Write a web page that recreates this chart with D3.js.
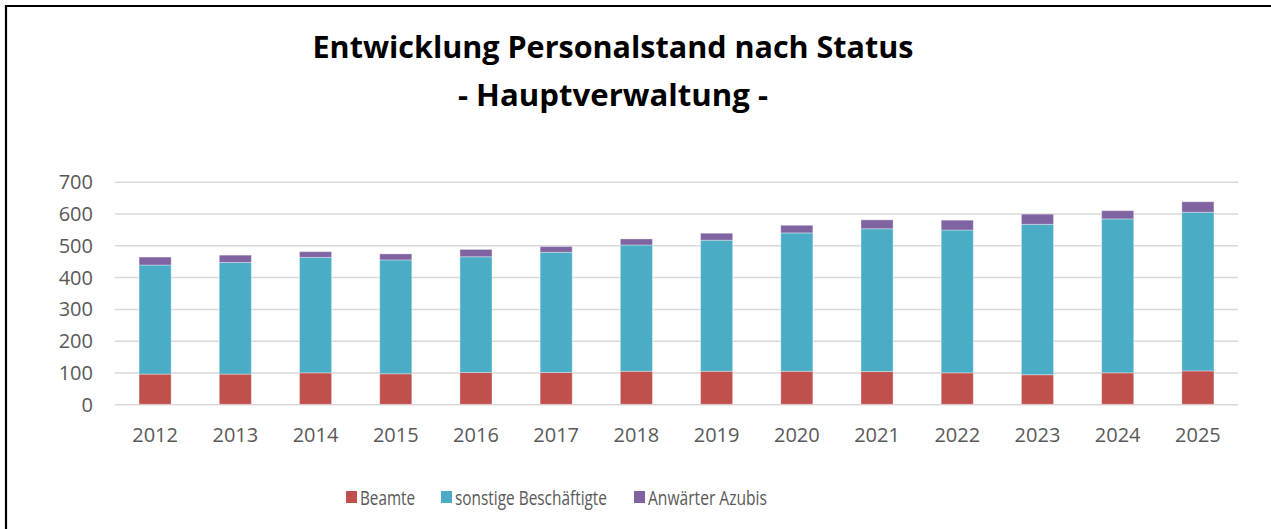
<!DOCTYPE html>
<html>
<head>
<meta charset="utf-8">
<script src="https://cdn.jsdelivr.net/npm/d3@7"></script>
<style>
  html, body { margin: 0; padding: 0; background: #fff; }
  svg { display: block; }
</style>
</head>
<body>
<svg id="chart" width="1271" height="529"></svg>
<script>
// ---- data ----
const years = ["2012","2013","2014","2015","2016","2017","2018","2019","2020","2021","2022","2023","2024","2025"];
const beamte = [95, 95, 99, 96, 100, 100, 104, 104, 104, 103, 99, 93, 99, 105];
const sonstige = [343, 351, 363, 358, 364, 378, 397, 412, 435, 449, 449, 473, 484, 499];
const azubis = [25, 23, 18, 19, 23, 18, 19, 22, 24, 28, 31, 32, 26, 33];
const seriesNames = ["Beamte", "sonstige Beschäftigte", "Anwärter Azubis"];
const yTicks = [0, 100, 200, 300, 400, 500, 600, 700];
const titleLines = ["Entwicklung Personalstand nach Status", "- Hauptverwaltung -"];

// ---- layout ----
const colors = ["#C0504D", "#4BACC6", "#8064A2"];
const svg = d3.select("#chart");
const plot = { left: 115, right: 1238, top: 181.7, bottom: 404.3 };
const textFont = "'Open Sans', 'Noto Sans', sans-serif";

// outer frame (right/bottom edges run off the picture)
svg.append("path")
  .attr("d", "M6,535 L6,6 L1280,6")
  .attr("fill", "none").attr("stroke", "#000").attr("stroke-width", 2.2);

// title
const titleSpecs = [
  { text: titleLines[0], y: 58, width: 601 },
  { text: titleLines[1], y: 106, width: 310 }
];
svg.selectAll("text.title").data(titleSpecs).enter().append("text")
  .attr("class", "title")
  .attr("x", 613).attr("y", d => d.y)
  .attr("text-anchor", "middle")
  .attr("font-family", textFont)
  .attr("font-weight", "bold")
  .attr("font-size", 31)
  .attr("fill", "#000")
  .attr("textLength", d => d.width)
  .attr("lengthAdjust", "spacingAndGlyphs")
  .text(d => d.text);

// scales
const x = d3.scaleBand().domain(years).range([plot.left, plot.right])
  .paddingInner(0.6).paddingOuter(0.3);
const y = d3.scaleLinear().domain([0, 700]).range([plot.bottom, plot.top]);

// gridlines
const yAxis = d3.axisLeft(y).tickValues(yTicks)
  .tickSize(-(plot.right - plot.left)).tickPadding(22);
const gy = svg.append("g").attr("transform", `translate(${plot.left},0)`).call(yAxis);
gy.select(".domain").remove();
gy.selectAll(".tick line").attr("stroke", "#D9D9D9").attr("stroke-width", 1.5);
gy.selectAll(".tick text")
  .attr("font-family", textFont).attr("font-size", 20).attr("fill", "#595959")
  .attr("dy", "0.35em");

// stacked bars
const rows = years.map((yr, i) => ({ year: yr, s0: beamte[i], s1: sonstige[i], s2: azubis[i] }));
const stack = d3.stack().keys(["s0", "s1", "s2"]);
const stacked = stack(rows);
svg.append("g").selectAll("g").data(stacked).enter().append("g")
  .attr("fill", (d, i) => colors[i])
  .selectAll("rect").data(d => d).enter().append("rect")
  .attr("x", d => x(d.data.year))
  .attr("width", x.bandwidth())
  .attr("y", d => y(d[1]))
  .attr("height", d => y(d[0]) - y(d[1]))
  .attr("stroke", "rgba(255,255,255,0.35)")
  .attr("stroke-width", 1);

// x axis labels
const xAxis = d3.axisBottom(x).tickSize(0).tickPadding(0);
const gx = svg.append("g").attr("transform", `translate(0,${plot.bottom})`).call(xAxis);
gx.select(".domain").remove();
gx.selectAll(".tick text")
  .attr("font-family", textFont).attr("font-size", 20).attr("fill", "#595959")
  .attr("y", 38).attr("dy", 0);

// legend
const legendX = [346, 441, 634];
const legendW = [55, 152, 119];
const legend = svg.append("g").selectAll("g").data(seriesNames).enter().append("g")
  .attr("transform", (d, i) => `translate(${legendX[i]},0)`);
legend.append("rect")
  .attr("x", 0).attr("y", 491).attr("width", 11).attr("height", 12)
  .attr("fill", (d, i) => colors[i]);
legend.append("text")
  .attr("x", 14).attr("y", 505)
  .attr("font-family", textFont).attr("font-size", 20).attr("fill", "#595959")
  .attr("textLength", (d, i) => legendW[i])
  .attr("lengthAdjust", "spacingAndGlyphs")
  .text(d => d);
</script>
</body>
</html>
